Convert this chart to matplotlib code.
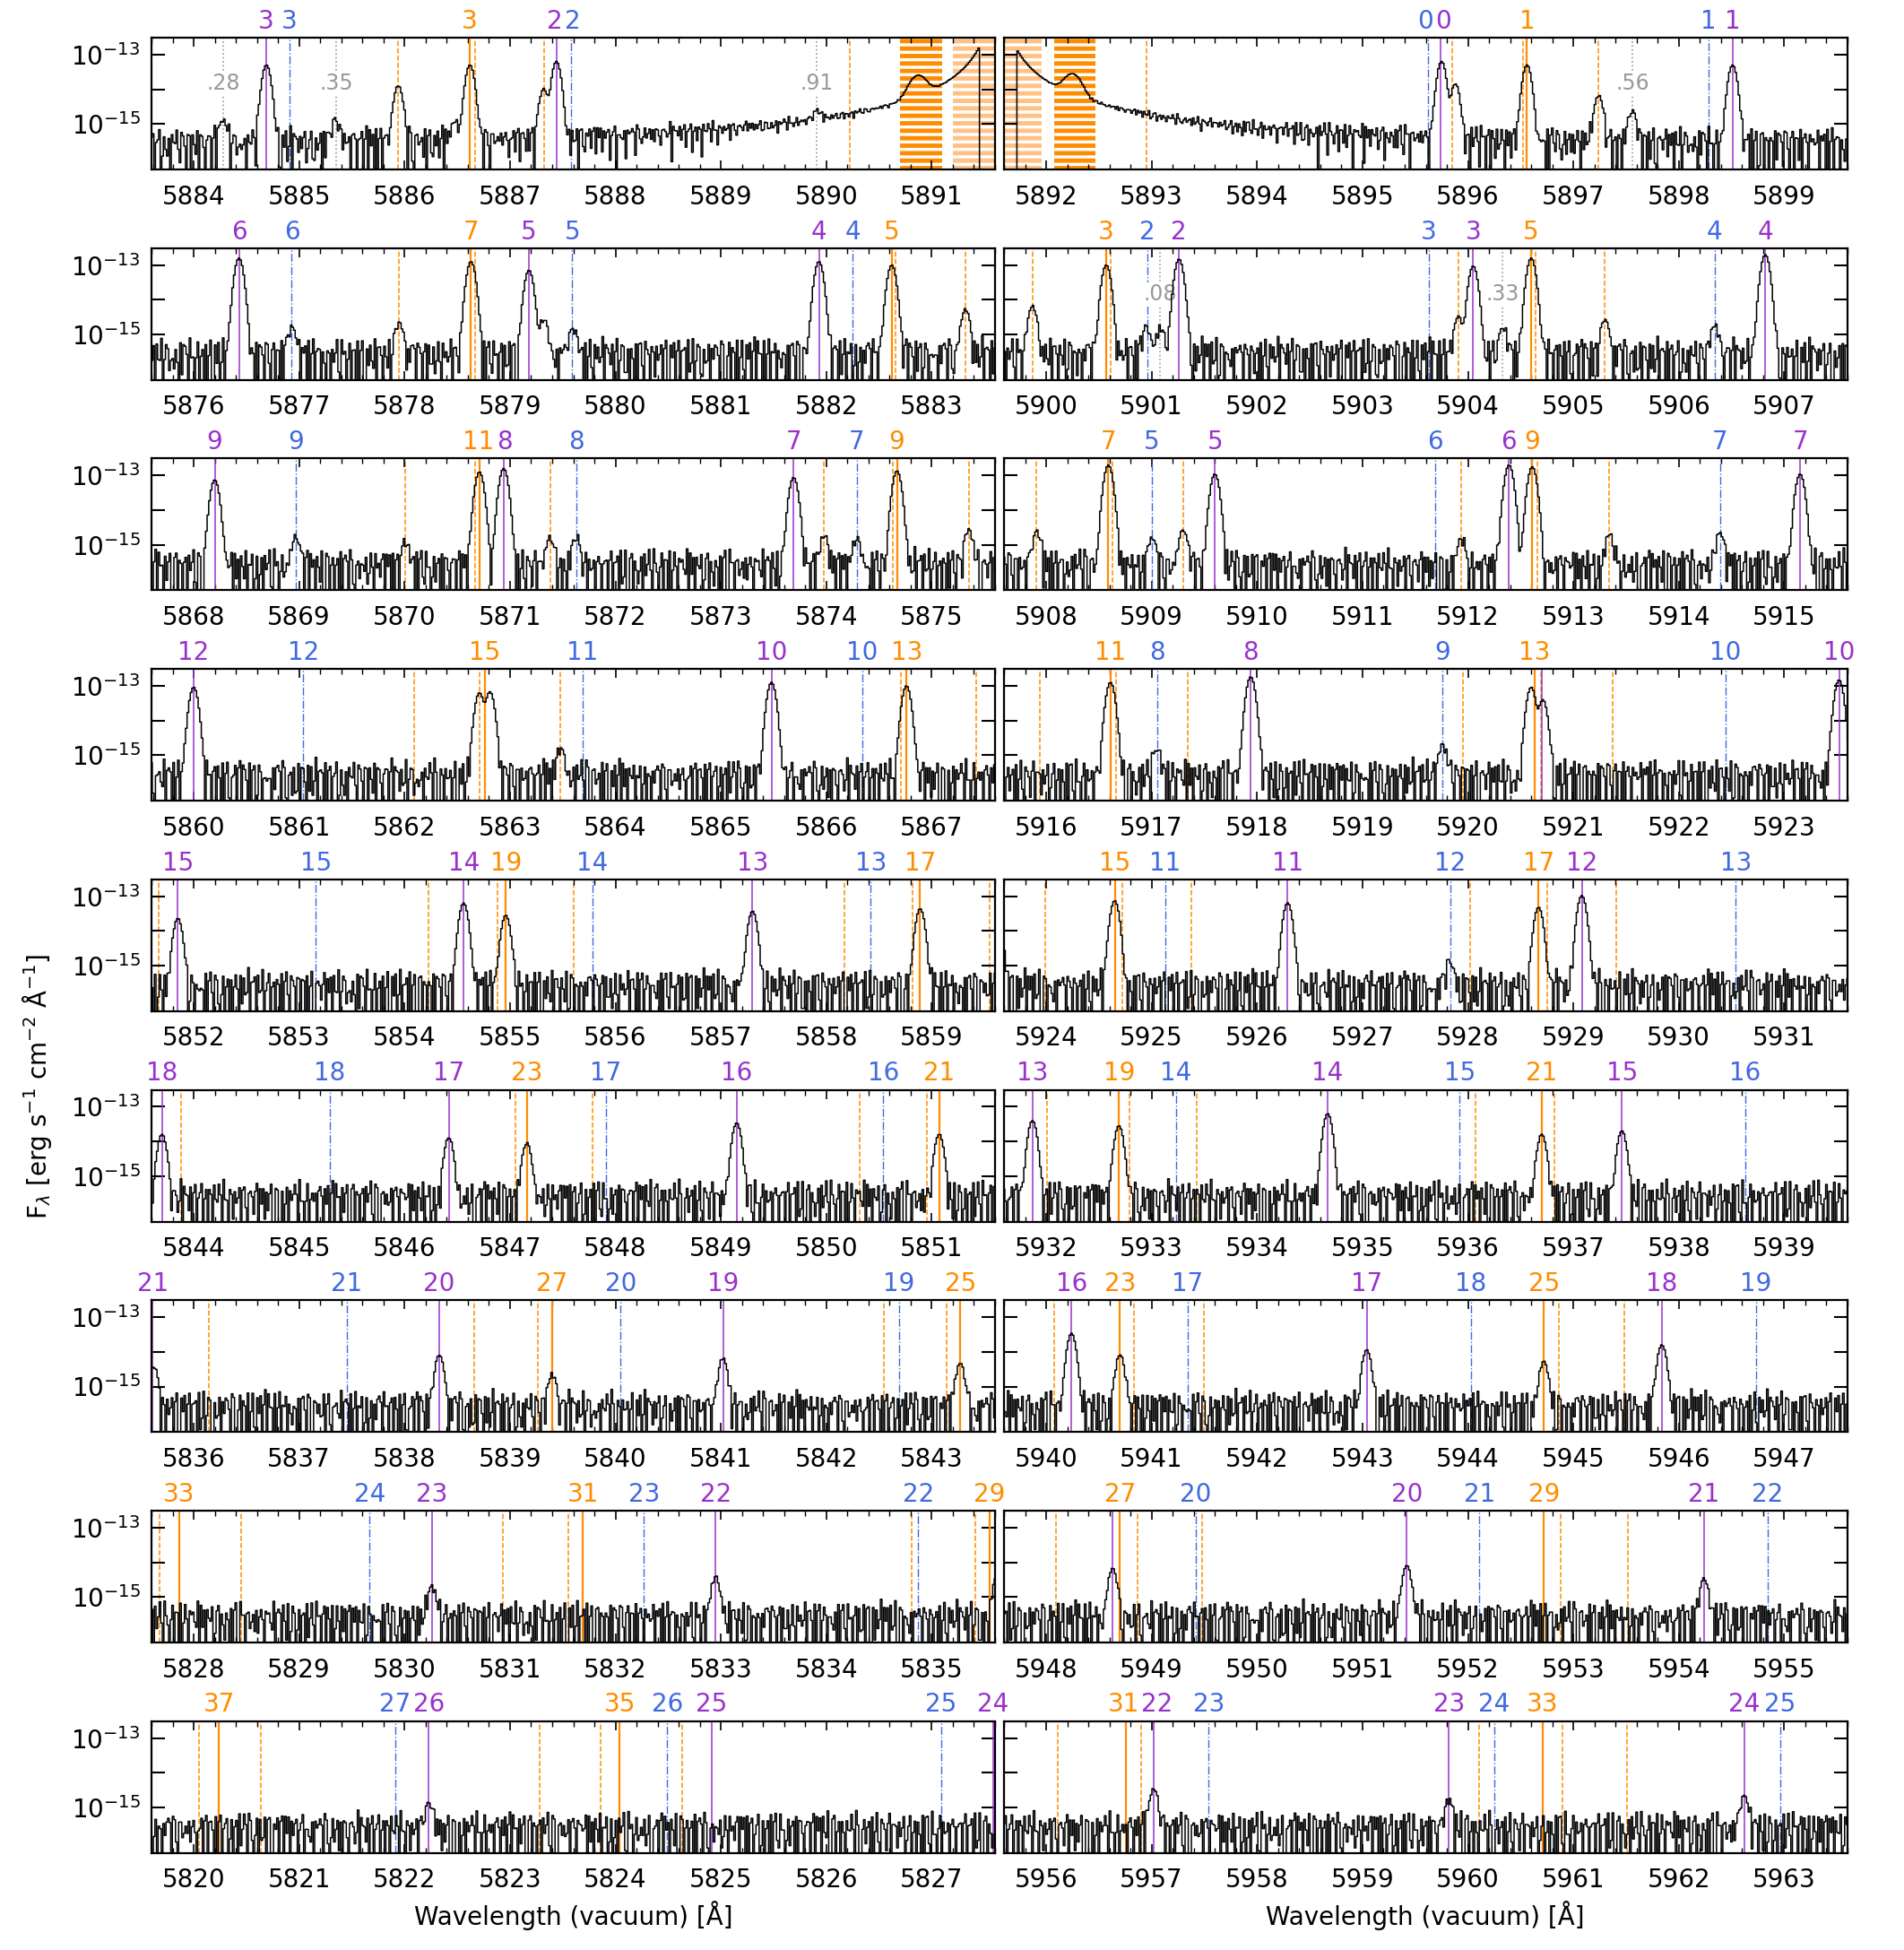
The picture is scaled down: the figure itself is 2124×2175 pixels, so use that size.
import numpy as np
import matplotlib
matplotlib.use('Agg')
import matplotlib.pyplot as plt
from matplotlib.ticker import MultipleLocator, FormatStrFormatter, NullLocator

plt.rcParams['font.family'] = ['DejaVu Sans']
plt.rcParams['mathtext.fontset'] = 'dejavusans'
plt.rcParams['hatch.linewidth'] = 3.5

# wavelength windows (left column top->bottom, right column top->bottom)
left_starts = [5883.6, 5875.6, 5867.6, 5859.6, 5851.6, 5843.6, 5835.6, 5827.6, 5819.6]
right_starts = [5891.6, 5899.6, 5907.6, 5915.6, 5923.6, 5931.6, 5939.6, 5947.6, 5955.6]

# line identifications: (wavelength, label)
purple_lines = [
    (5884.69, '3'), (5887.44, '2'), (5895.74, '0'), (5898.51, '1'),
    (5876.43, '6'), (5879.18, '5'), (5881.93, '4'), (5901.26, '2'), (5904.05, '3'), (5906.82, '4'),
    (5868.20, '9'), (5870.94, '8'), (5873.69, '7'), (5909.60, '5'), (5912.39, '6'), (5915.15, '7'),
    (5860.00, '12'), (5862.76, ''), (5865.48, '10'), (5917.94, '8'), (5920.70, ''), (5923.52, '10'),
    (5851.85, '15'), (5854.56, '14'), (5857.30, '13'), (5926.29, '11'), (5929.08, '12'),
    (5843.70, '18'), (5846.42, '17'), (5849.15, '16'), (5931.87, '13'), (5934.67, '14'), (5937.46, '15'),
    (5835.61, '21'), (5838.33, '20'), (5841.02, '19'), (5940.24, '16'), (5943.04, '17'), (5945.84, '18'),
    (5830.26, '23'), (5832.95, '22'), (5948.63, ''), (5951.42, '20'), (5954.24, '21'),
    (5822.23, '26'), (5824.91, '25'), (5827.58, '24'), (5957.02, '22'), (5959.82, '23'), (5962.62, '24'),
]
blue_lines = [
    (5884.91, '3'), (5887.58, '2'), (5895.62, '0'), (5898.28, '1'),
    (5876.93, '6'), (5879.59, '5'), (5882.25, '4'), (5900.96, '2'), (5903.63, '3'), (5906.34, '4'),
    (5868.97, '9'), (5871.63, '8'), (5874.29, '7'), (5909.00, '5'), (5911.69, '6'), (5914.39, '7'),
    (5861.04, '12'), (5863.69, '11'), (5866.34, '10'), (5917.05, '8'), (5919.76, '9'), (5922.44, '10'),
    (5853.16, '15'), (5855.78, '14'), (5858.42, '13'), (5925.13, '11'), (5927.83, '12'), (5930.54, '13'),
    (5845.29, '18'), (5847.91, '17'), (5850.54, '16'), (5933.23, '14'), (5935.92, '15'), (5938.63, '16'),
    (5837.45, '21'), (5840.05, '20'), (5842.69, '19'), (5941.34, '17'), (5944.03, '18'), (5946.73, '19'),
    (5829.67, '24'), (5832.27, '23'), (5834.87, '22'), (5949.42, '20'), (5952.11, '21'), (5954.84, '22'),
    (5821.91, '27'), (5824.49, '26'), (5827.09, '25'), (5957.54, '23'), (5960.25, '24'), (5962.96, '25'),
]
orange_lines = [
    (5886.62, '3'), (5896.56, '1'),
    (5878.63, '7'), (5882.62, '5'), (5900.57, '3'), (5904.60, '5'),
    (5870.71, '11'), (5874.67, '9'), (5908.59, '7'), (5912.61, '9'),
    (5862.76, '15'), (5866.76, '13'), (5916.61, '11'), (5920.63, '13'),
    (5854.96, '19'), (5858.89, '17'), (5924.65, '15'), (5928.67, '17'),
    (5847.16, '23'), (5851.07, '21'), (5932.69, '19'), (5936.70, '21'),
    (5839.40, '27'), (5843.27, '25'), (5940.70, '23'), (5944.72, '25'),
    (5827.86, '33'), (5831.69, '31'), (5835.55, '29'), (5948.70, '27'), (5952.72, '29'),
    (5820.24, '37'), (5824.04, '35'), (5956.76, '31'), (5960.71, '33'),
]
orange_other = [
    5885.94, 5886.67, 5887.32, 5890.22, 5892.95, 5895.85, 5896.52, 5897.24,
    5877.95, 5878.67, 5882.66, 5883.32, 5899.87, 5900.61, 5903.91, 5904.64, 5905.30,
    5870.01, 5870.67, 5871.38, 5873.98, 5874.63, 5875.35, 5907.91, 5908.63, 5909.30,
    5911.94, 5912.66, 5913.34,
    5862.09, 5862.71, 5863.48, 5866.71, 5867.42, 5915.94, 5916.66, 5917.34, 5919.95,
    5920.69, 5921.37,
    5851.67, 5854.23, 5854.88, 5855.60, 5858.17, 5858.82, 5859.55, 5923.99, 5924.72,
    5925.38, 5928.02, 5928.75, 5929.41,
    5843.88, 5847.05, 5847.78, 5850.32, 5850.95, 5932.01, 5932.79, 5933.43, 5936.07, 5936.82,
    5836.14, 5838.66, 5839.26, 5842.55, 5843.14, 5940.08, 5940.83, 5941.50, 5944.86, 5945.48,
    5827.68, 5828.45, 5830.93, 5831.55, 5834.81, 5835.41, 5948.09, 5948.87, 5949.48,
    5952.88, 5953.52,
    5820.05, 5820.64, 5823.28, 5823.86, 5824.63, 5956.11, 5956.90, 5960.11, 5960.90, 5961.51,
]
gray_lines = [(5884.28, '.28'), (5885.35, '.35'), (5889.91, '.91'),
              (5897.56, '.56'), (5901.08, '.08'), (5904.33, '.33')]

# masked Na D regions
mask_solid = [(5890.70, 5891.10), (5892.08, 5892.47)]
mask_light = [(5891.20, 5891.96)]

# emission peaks: (wavelength, log10 peak flux)
peaks = [
    (5884.28, -15.0), (5884.69, -13.3), (5885.35, -15.0), (5885.94, -13.9), (5886.48, -15.1),
    (5886.62, -13.3), (5887.32, -14.0), (5887.44, -13.2), (5889.91, -14.95),
    (5895.75, -13.2), (5895.88, -13.85), (5896.56, -13.3), (5897.24, -14.2), (5897.56, -14.7),
    (5898.51, -13.3),
    (5876.43, -12.8), (5876.93, -14.85), (5877.95, -14.7), (5878.63, -12.9), (5879.18, -13.15),
    (5879.32, -14.6), (5879.60, -14.9), (5881.93, -12.9), (5882.62, -13.0), (5883.32, -14.3),
    (5899.87, -14.2), (5900.57, -13.0), (5900.95, -14.85), (5901.08, -14.9), (5901.26, -12.83),
    (5903.91, -14.5), (5904.05, -13.03), (5904.33, -14.9), (5904.60, -12.8), (5905.30, -14.6),
    (5906.34, -14.8), (5906.82, -12.7),
    (5868.20, -13.13), (5868.97, -14.83), (5870.01, -15.0), (5870.71, -12.9), (5870.94, -12.8),
    (5871.38, -14.87), (5871.63, -14.87), (5873.69, -13.06), (5873.98, -14.8), (5874.29, -14.9),
    (5874.67, -12.87), (5875.35, -14.6),
    (5907.91, -14.66), (5908.59, -12.7), (5909.00, -14.87), (5909.30, -14.6), (5909.60, -12.96),
    (5911.94, -14.94), (5912.39, -12.7), (5912.61, -12.75), (5913.34, -14.77), (5914.39, -14.7),
    (5915.15, -12.96),
    (5860.00, -13.04), (5862.71, -13.2), (5862.81, -13.17), (5863.48, -14.87), (5865.48, -12.9),
    (5866.76, -13.0),
    (5916.61, -12.9), (5917.05, -14.87), (5917.94, -12.74), (5919.76, -14.74), (5920.60, -13.04),
    (5920.71, -13.4), (5923.52, -12.83),
    (5851.85, -13.64), (5854.56, -13.2), (5854.96, -13.55), (5857.30, -13.43), (5858.89, -13.36),
    (5924.65, -13.13), (5926.29, -13.19), (5927.83, -14.95), (5928.67, -13.32), (5929.08, -12.98),
    (5843.70, -13.8), (5846.42, -13.9), (5847.16, -14.06), (5849.15, -13.47), (5851.07, -13.8),
    (5931.87, -13.4), (5932.69, -13.55), (5934.67, -13.2), (5936.70, -13.8), (5937.46, -13.7),
    (5835.62, -14.45), (5838.33, -14.1), (5839.40, -14.7), (5841.02, -14.2), (5843.27, -14.35),
    (5940.24, -13.47), (5940.70, -14.1), (5943.04, -13.95), (5944.72, -14.3), (5945.84, -13.8),
    (5830.26, -14.75), (5832.95, -14.45),
    (5948.63, -14.2), (5951.42, -14.1), (5954.24, -14.5),
    (5822.23, -14.96), (5957.02, -14.5), (5959.82, -14.87), (5962.62, -14.72),
]
broad_peaks = [(5890.87, -13.72), (5892.25, -13.68)]

# Na D2 emission wing and saturated core
na_line = 5891.58
na_wing = 3.2e-15
na_core = (5891.45, 5891.72)
continuum = 2.1e-16

noise_a = [4.6, -3.0, 2.2, 0.6, 1.4, -2.4, 2.8, -1.1, 0.2, 3.8, -3.4, -0.6, 1.7, 2.4, -2.7, -0.2,
           0.9, -1.7, 0.3, 1.0, -3.6, 2.5, -1.0, 1.3, 3.3, 0.0, -2.8, 4.1, 1.2, -0.5, -3.2, 0.7,
           2.1, -1.9, 1.1, 0.4, -1.2, 2.6, -2.5, 0.8, 3.0, -0.8, -3.3, 1.6, 0.2, 1.8, -1.5, 0.5]
noise_b = [0.8, -0.6, 1.2, -1.4, 0.3, 0.9, -0.9, 1.5, -0.2, -1.1, 0.6, 1.0, -1.6, 0.1, 0.7, -0.4,
           1.3, -1.2, 0.4, -0.7, 1.1, -1.3, 0.5, 0.2, -0.8, 1.4, -0.3, -1.0, 0.9, -0.5, 0.0]

# build spectrum
wl = np.arange(5819.4, 5963.8, 0.015)
i = np.arange(wl.size)
flux = continuum + 1.1e-16 * (np.array(noise_a)[i % len(noise_a)] + np.array(noise_b)[i % len(noise_b)])
flux += na_wing / ((wl - na_line) ** 2 + 0.05 ** 2)
for c, h in peaks:
    flux += 10 ** h * np.exp(-0.5 * ((wl - c) / 0.03) ** 2)
for c, h in broad_peaks:
    flux += 10 ** h * np.exp(-0.5 * ((wl - c) / 0.07) ** 2)
flux[(wl > na_core[0]) & (wl < na_core[1])] = 0.0
flux = np.where(flux > 0, flux, 1e-20)

PURPLE = '#9932cc'
BLUE = '#4169e1'
ORANGE = '#ff8c00'
GRAY = '#999999'

W, H = 2124, 2175
AX_W = 941
LABEL_SIZE = 20
DIGIT_PX = 0.636 * LABEL_SIZE * 100 / 72   # approx width of one digit in pixels

fig = plt.figure(figsize=(W / 100, H / 100), dpi=100)

for row in range(9):
    for col, start in enumerate((left_starts[row], right_starts[row])):
        end = start + 8.0
        x0 = (169 if col == 0 else 1120) / W
        top = 42 + 234.7 * row
        ax = fig.add_axes([x0, 1 - (top + 147) / H, AX_W / W, 147 / H])
        inside = lambda lam: start <= lam <= end

        for a, b in mask_solid:
            ax.axvspan(a, b, facecolor='none', edgecolor=ORANGE, hatch='--', lw=0, zorder=1)
        for a, b in mask_light:
            ax.axvspan(a, b, facecolor='none', edgecolor=(1, 0.6, 0.2, 0.6), hatch='--', lw=0, zorder=1)

        for lam in orange_other:
            if inside(lam):
                ax.axvline(lam, color=ORANGE, ls='--', lw=1.1, zorder=1.5)
        for lam, lab in gray_lines:
            if inside(lam):
                ax.axvline(lam, color=GRAY, ls=':', lw=1.2, zorder=1.5)
                ax.text(lam, 0.65, lab, transform=ax.get_xaxis_transform(), ha='center',
                        va='center', color=GRAY, fontsize=17, zorder=2,
                        bbox=dict(fc='white', ec='none', pad=0.5))

        labels = []
        for lines, color, ls, lw in ((blue_lines, BLUE, '-.', 1.0),
                                     (purple_lines, PURPLE, '-', 1.1),
                                     (orange_lines, ORANGE, '-', 1.6)):
            for lam, lab in lines:
                if not inside(lam):
                    continue
                ax.axvline(lam, color=color, ls=ls, lw=lw, zorder=1.6)
                if lab:
                    labels.append([lam, lab, color, (lam - start) / 8.0 * AX_W])

        # push touching labels apart a little
        labels.sort(key=lambda t: t[0])
        pos = [t[3] for t in labels]
        for _ in range(20):
            for k in range(len(labels) - 1):
                need = (len(labels[k][1]) + len(labels[k + 1][1])) * DIGIT_PX / 2 + 2
                gap = pos[k + 1] - pos[k]
                if gap < need:
                    pos[k] -= (need - gap) / 2
                    pos[k + 1] += (need - gap) / 2
        for (lam, lab, color, px), p in zip(labels, pos):
            ax.annotate(lab, xy=(lam, 1.0), xycoords=('data', 'axes fraction'),
                        xytext=((p - px) * 0.72, 3), textcoords='offset points', ha='center',
                        va='bottom', color=color, fontsize=LABEL_SIZE, annotation_clip=False)

        sel = (wl >= start - 0.1) & (wl <= end + 0.1)
        ax.plot(wl[sel], flux[sel], color='black', lw=1.1, drawstyle='steps-mid', zorder=3)

        ax.set_yscale('log')
        ax.set_xlim(start, end)
        ax.set_ylim(10 ** -16.31, 10 ** -12.51)
        ax.set_yticks([1e-15, 1e-14, 1e-13])
        ax.set_yticklabels(['$10^{-15}$', '', '$10^{-13}$'])
        ax.yaxis.set_minor_locator(NullLocator())
        ax.xaxis.set_major_locator(MultipleLocator(1))
        ax.xaxis.set_minor_locator(MultipleLocator(0.2))
        ax.xaxis.set_major_formatter(FormatStrFormatter('%d'))
        ax.tick_params(axis='both', which='both', direction='in', top=True, right=True,
                       labelsize=20)
        ax.tick_params(axis='x', which='major', length=7, width=1.2, pad=12)
        ax.tick_params(axis='x', which='minor', length=4, width=1.0)
        ax.tick_params(axis='y', which='major', length=11, width=1.5, pad=9)
        if col == 1:
            ax.tick_params(axis='y', labelleft=False)
        for sp in ax.spines.values():
            sp.set_linewidth(1.6)
            sp.set_zorder(4)

fig.text(0.0195, 0.443, r'F$_\lambda$ [erg s$^{-1}$ cm$^{-2}$ Å$^{-1}$]', rotation=90,
         ha='center', va='center', fontsize=20)
fig.text(640 / W, 0.0175, 'Wavelength (vacuum) [Å]', ha='center', va='center', fontsize=20)
fig.text(1590 / W, 0.0175, 'Wavelength (vacuum) [Å]', ha='center', va='center', fontsize=20)

fig.savefig('out.png', dpi=100)
